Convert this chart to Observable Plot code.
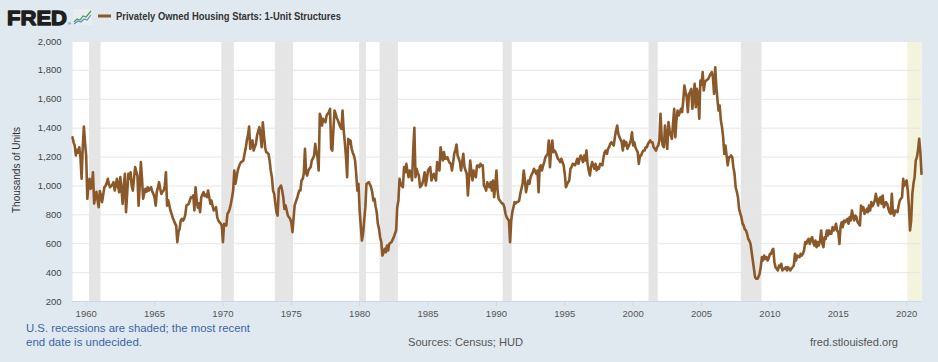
<!DOCTYPE html>
<html><head><meta charset="utf-8">
<script src="https://cdn.jsdelivr.net/npm/d3@7"></script>
<script src="https://cdn.jsdelivr.net/npm/@observablehq/plot@0.6"></script>
<style>
html,body{margin:0;padding:0;background:#e1e9f0;}
#wrap{position:relative;width:938px;height:362px;overflow:hidden;background:#e1e9f0;font-family:"Liberation Sans",Arial,sans-serif;}
#chart{position:absolute;left:0;top:0;}
#overlay{position:absolute;left:0;top:0;pointer-events:none;}
</style></head>
<body><div id="wrap"><div id="chart"></div><svg id="overlay" width="938" height="362"></svg></div>
<script>
// Monthly series, thousands of units (SAAR), starting January 1959
const firstYear = 1959;
const housingStarts = [
  1337,1300,1280,1211,1250,1230,1268,1200,1050,1260,1411,1300, // 1959
  1211,911,1000,1050,980,1000,1095,878,930,960,900,853,        // 1960
  965,930,888,940,991,1000,1020,1050,1010,991,1000,1010,       // 1961
  1026,968,1000,1050,1000,957,1061,980,876,1000,1084,818,      // 1962
  950,1084,1050,1095,1000,968,1050,1130,1100,1072,864,1000,    // 1963
  1165,1050,911,950,980,960,991,968,980,991,960,945,           // 1964
  920,864,957,990,1026,980,945,960,968,1000,1095,864,          // 1965
  900,864,830,807,780,761,740,726,611,680,703,761,             // 1966
  772,760,772,800,864,870,876,900,922,920,934,830,             // 1967
  991,899,850,880,818,922,940,957,930,940,922,968,             // 1968
  920,876,899,860,830,840,853,784,760,749,740,726,             // 1969
  611,738,730,726,807,820,841,876,920,968,1107,1015,           // 1970
  1060,1107,1130,1153,1165,1170,1176,1222,1260,1315,1350,1411, // 1971
  1257,1290,1315,1245,1270,1291,1349,1380,1407,1349,1268,1441, // 1972
  1350,1268,1234,1230,1222,1176,1107,1061,968,945,880,818,     // 1973
  795,980,990,1003,968,922,841,865,830,795,784,772,            // 1974
  749,680,772,865,890,911,940,968,968,1038,1049,1084,          // 1975
  1257,1090,1072,1107,1120,1130,1176,1190,1211,1292,1234,1200, // 1976
  1107,1499,1476,1418,1465,1450,1441,1488,1500,1511,1534,1257, // 1977
  1245,1400,1522,1499,1470,1453,1430,1410,1395,1522,1384,1300, // 1978
  1199,1061,1326,1292,1315,1257,1230,1211,1176,1084,968,1015,  // 1979
  830,720,622,669,760,853,1015,1020,1026,1010,991,957,         // 1980
  899,911,860,818,738,703,645,611,518,540,565,541,             // 1981
  588,553,599,605,611,630,645,670,691,853,899,1049,            // 1982
  1015,1000,991,1130,1095,1153,1100,1061,1107,1084,1038,1245,  // 1983
  1402,1061,1119,1090,1072,991,1000,1015,1050,1095,1003,1050,  // 1984
  1107,1120,1130,1038,1060,1084,1060,1038,1165,1130,1107,1268, // 1985
  1220,1176,1234,1188,1190,1199,1176,1160,1153,1107,1160,1222, // 1986
  1250,1287,1211,1190,1165,1107,1165,1222,1130,1107,1084,934,  // 1987
  1050,1176,1107,1038,1107,1072,1061,1142,1142,1130,1153,1140, // 1988
  1142,1003,990,968,1026,1000,991,1026,968,1038,922,1000,      // 1989
  1107,968,911,900,888,880,876,853,807,784,770,761,            // 1990
  611,761,818,853,888,880,888,890,899,945,980,1015,            // 1991
  1107,1038,957,1000,1038,1015,1061,1080,1095,1119,1100,1084,  // 1992
  1107,957,1130,1142,1107,1140,1165,1199,1210,1222,1315,1130,  // 1993
  1250,1315,1234,1245,1234,1211,1188,1180,1165,1188,1165,1142, // 1994
  1084,991,1010,1026,1038,1119,1130,1153,1150,1142,1165,1188,  // 1995
  1153,1188,1211,1190,1165,1211,1176,1245,1153,1107,1072,1130, // 1996
  1165,1140,1119,1153,1107,1130,1119,1153,1150,1142,1199,1234, // 1997
  1245,1222,1257,1270,1292,1303,1290,1280,1338,1384,1418,1361, // 1998
  1338,1320,1303,1245,1315,1280,1303,1257,1275,1292,1315,1372, // 1999
  1280,1303,1268,1250,1234,1153,1211,1211,1234,1245,1245,1268, // 2000
  1268,1292,1303,1315,1303,1303,1268,1257,1245,1268,1280,1315, // 2001
  1499,1338,1280,1268,1418,1338,1257,1442,1384,1350,1326,1430, // 2002
  1534,1338,1453,1522,1488,1510,1534,1511,1592,1695,1650,1615, // 2003
  1511,1638,1649,1672,1534,1620,1707,1545,1672,1626,1465,1730, // 2004
  1700,1788,1661,1718,1730,1735,1742,1760,1776,1788,1753,1638, // 2005
  1822,1684,1600,1522,1557,1453,1407,1338,1222,1280,1211,1142, // 2006
  1199,1199,1211,1199,1130,1084,991,960,922,841,810,784,       // 2007
  740,726,700,692,669,634,620,599,541,484,426,368,             // 2008
  357,357,370,392,438,507,484,518,495,507,484,500,             // 2009
  530,530,553,565,472,438,426,415,449,438,461,415,             // 2010
  426,426,438,415,438,426,415,430,438,449,530,484,             // 2011
  518,510,507,530,518,530,553,611,600,622,634,599,             // 2012
  630,645,611,588,622,576,611,588,622,692,600,576,             // 2013
  645,634,692,657,692,669,669,715,692,703,738,692,             // 2014
  680,599,715,749,715,761,749,760,772,738,784,761,             // 2015
  830,790,761,795,784,749,738,726,865,830,853,807,             // 2016
  820,841,818,865,830,888,860,876,899,945,900,865,             // 2017
  911,922,876,934,853,870,888,876,841,818,807,945,             // 2018
  818,795,830,825,818,865,899,911,922,1049,1000,1026,          // 2019
  1038,968,860,692,761,945,1015,1061,1176,1199,1250,1326,      // 2020
  1234,1084                                                     // 2021
];

const recessionStarts = ["1960-04-01","1969-12-01","1973-11-01","1980-01-01","1981-07-01","1990-07-01","2001-03-01","2007-12-01"];
const recessionEnds   = ["1961-02-01","1970-11-01","1975-03-01","1980-07-01","1982-11-01","1991-03-01","2001-11-01","2009-06-01"];
const undecidedStart = "2020-02-01";

const yTicks = [200,400,600,800,1000,1200,1400,1600,1800,2000];
const xTickYears = [1960,1965,1970,1975,1980,1985,1990,1995,2000,2005,2010,2015,2020];

const seriesTitle = "Privately Owned Housing Starts: 1-Unit Structures";
const yTitle = "Thousands of Units";
const noteLine1 = "U.S. recessions are shaded; the most recent";
const noteLine2 = "end date is undecided.";
const sourceText = "Sources: Census; HUD";
const siteText = "fred.stlouisfed.org";

const lineColor = "#8b5829";

const series = housingStarts.map((v, i) => ({date: new Date(Date.UTC(firstYear, i, 1)), value: v}));
const lastDate = series[series.length - 1].date;
const recessions = recessionStarts.map((s, i) => ({start: new Date(s + "T00:00:00Z"), end: new Date(recessionEnds[i] + "T00:00:00Z")}));
const undecided = [{start: new Date(undecidedStart + "T00:00:00Z"), end: lastDate}];
const xTicks = xTickYears.map(y => new Date(Date.UTC(y, 0, 1)));

const chart = Plot.plot({
  width: 938,
  height: 330,
  marginLeft: 72,
  marginRight: 17,
  marginTop: 41,
  marginBottom: 29,
  style: {background: "transparent", fontFamily: "Liberation Sans, Arial, sans-serif", color: "#444", overflow: "visible"},
  x: {type: "utc", domain: [series[0].date, lastDate]},
  y: {domain: [200, 2000]},
  marks: [
    Plot.frame({fill: "#ffffff", stroke: null}),
    Plot.rect(recessions, {x1: "start", x2: "end", fill: "#e5e5e5"}),
    Plot.rect(undecided, {x1: "start", x2: "end", fill: "#f4f3dc"}),
    Plot.ruleY(yTicks.slice(1), {stroke: "#e6e6e6", strokeWidth: 1}),
    Plot.ruleY([200], {stroke: "#ccd6eb", strokeWidth: 1}),
    Plot.axisY({ticks: yTicks, tickSize: 0, tickPadding: 11, tickFormat: d3.format(","), fontSize: 9.5, fill: "#444", label: null}),
    Plot.axisX({ticks: xTicks, tickSize: 5, tickPadding: 4, tickFormat: d3.utcFormat("%Y"), stroke: "#ccd6eb", fill: "#555", fontSize: 9.5, fontFamily: "Liberation Sans Narrow, Liberation Sans, sans-serif", label: null}),
    Plot.line(series, {x: "date", y: "value", stroke: lineColor, strokeWidth: 2.6, strokeLinejoin: "round"})
  ]
});
document.getElementById("chart").appendChild(chart);

// Header, axis title and footer
const ov = d3.select("#overlay");
ov.append("text").attr("x", 7).attr("y", 25).attr("font-family", "Liberation Sans, Arial, sans-serif")
  .attr("font-weight", "bold").attr("font-size", 21).attr("fill", "#1e1e1e")
  .attr("stroke", "#1e1e1e").attr("stroke-width", 1.3).attr("stroke-linejoin", "round")
  .attr("textLength", 60).attr("lengthAdjust", "spacingAndGlyphs").text("FRED");
ov.append("text").attr("x", 68).attr("y", 25).attr("font-size", 4).attr("fill", "#1e1e1e").text("®");
const icon = ov.append("g");
icon.append("rect").attr("x", 73).attr("y", 9).attr("width", 19).attr("height", 16).attr("fill", "#e9edf0");
icon.append("polyline").attr("points", "74,22 77,19 80,20 83,16 86,17 91,11").attr("fill", "none").attr("stroke", "#4c9a5a").attr("stroke-width", 1.2);
icon.append("polyline").attr("points", "74,24 78,21 81,22 84,19 87,20 91,15").attr("fill", "none").attr("stroke", "#5b8fc9").attr("stroke-width", 1.2);
ov.append("line").attr("x1", 98).attr("x2", 111).attr("y1", 16).attr("y2", 16).attr("stroke", lineColor).attr("stroke-width", 3);
ov.append("text").attr("x", 116).attr("y", 19.5).attr("font-family", "Liberation Sans, Arial, sans-serif")
  .attr("font-weight", "bold").attr("font-size", 10).attr("fill", "#333")
  .attr("textLength", 225).attr("lengthAdjust", "spacingAndGlyphs").text(seriesTitle);
ov.append("text").attr("transform", "translate(20,170) rotate(-90)").attr("text-anchor", "middle")
  .attr("font-family", "Liberation Sans, Arial, sans-serif").attr("font-size", 10).attr("fill", "#333")
  .attr("textLength", 86).attr("lengthAdjust", "spacingAndGlyphs").text(yTitle);
const foot = (t, x, y, len, color) => ov.append("text").attr("x", x).attr("y", y)
  .attr("font-family", "Liberation Sans, Arial, sans-serif").attr("font-size", 11).attr("fill", color)
  .attr("textLength", len).attr("lengthAdjust", "spacingAndGlyphs").text(t);
foot(noteLine1, 26, 332, 224, "#3a64a8");
foot(noteLine2, 26, 346, 116, "#3a64a8");
foot(sourceText, 408, 346, 115, "#555");
foot(siteText, 810, 346, 88, "#555");
</script>
</body></html>
